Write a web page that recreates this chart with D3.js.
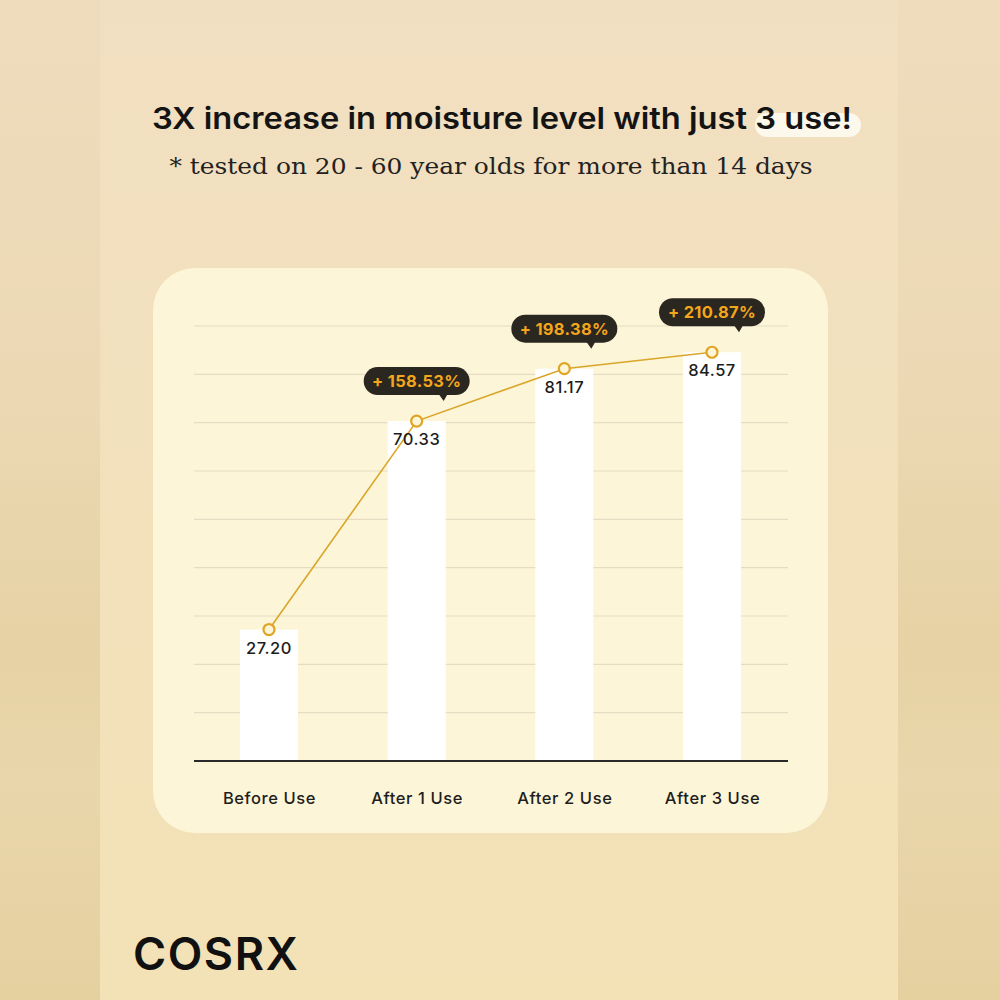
<!DOCTYPE html>
<html><head><meta charset="utf-8">
<script src="https://cdn.jsdelivr.net/npm/d3@7"></script>
<style>html,body{margin:0;padding:0;background:#f0dfbf;}svg{display:block;}</style>
</head><body>
<svg id="chart" width="1000" height="1000"></svg>
<script>
const categories = ["Before Use", "After 1 Use", "After 2 Use", "After 3 Use"];
const values = [27.20, 70.33, 81.17, 84.57];
const valueLabels = ["27.20", "70.33", "81.17", "84.57"];
const increaseLabels = [null, "+ 158.53%", "+ 198.38%", "+ 210.87%"];
const gridTicks = [10, 20, 30, 40, 50, 60, 70, 80, 90];
const titleText = "3X increase in moisture level with just 3 use!";
const subtitleText = "* tested on 20 - 60 year olds for more than 14 days";
const brandText = "COSRX";

const svg = d3.select("#chart");
const defs = svg.append("defs");
const gSide = defs.append("linearGradient").attr("id","side").attr("x1",0).attr("y1",0).attr("x2",0).attr("y2",1);
gSide.append("stop").attr("offset","0%").attr("stop-color","#efdcbd");
gSide.append("stop").attr("offset","40%").attr("stop-color","#ecd8b3");
gSide.append("stop").attr("offset","65%").attr("stop-color","#e6d2a4");
gSide.append("stop").attr("offset","78%").attr("stop-color","#e9d6aa");
gSide.append("stop").attr("offset","100%").attr("stop-color","#e5d0a0");
const gMid = defs.append("linearGradient").attr("id","mid").attr("x1",0).attr("y1",0).attr("x2",0).attr("y2",1);
gMid.append("stop").attr("offset","0%").attr("stop-color","#f1dfc1");
gMid.append("stop").attr("offset","100%").attr("stop-color","#f3e2b6");

svg.append("rect").attr("width",1000).attr("height",1000).attr("fill","url(#side)");
svg.append("rect").attr("x",100).attr("y",0).attr("width",798).attr("height",1000).attr("fill","url(#mid)");

// Title highlight
svg.append("rect").attr("x",755).attr("y",113).attr("width",106).attr("height",24).attr("rx",12)
  .attr("fill","#fdf8ec");
svg.append("text").attr("x",502).attr("y",129).attr("text-anchor","middle")
  .attr("font-family","Inter, 'Noto Sans', sans-serif").attr("font-weight",600).attr("font-size",30)
  .attr("fill","#141414").attr("textLength",700).attr("lengthAdjust","spacingAndGlyphs")
  .text(titleText);
svg.append("text").attr("x",491).attr("y",174).attr("text-anchor","middle")
  .attr("font-family","'DejaVu Serif', serif").attr("font-size",22)
  .attr("fill","#222").attr("textLength",643).attr("lengthAdjust","spacingAndGlyphs")
  .text(subtitleText);

// Card
svg.append("rect").attr("x",153).attr("y",268).attr("width",675).attr("height",565).attr("rx",42)
  .attr("fill","#fdf5d8");

const x = d3.scalePoint().domain(categories).range([269, 712]);
const y = d3.scaleLinear().domain([0, 90]).range([761, 326]);
const gridX0 = 194, gridX1 = 788, barW = 58;

// gridlines
svg.append("g").selectAll("line").data(gridTicks).join("line")
  .attr("x1",gridX0).attr("x2",gridX1)
  .attr("y1",d=>y(d)).attr("y2",d=>y(d))
  .attr("stroke","#e5dcc3").attr("stroke-width",1.2);

// bars
svg.append("g").selectAll("rect").data(values).join("rect")
  .attr("x",(d,i)=>x(categories[i])-barW/2).attr("width",barW)
  .attr("y",d=>y(d)).attr("height",d=>y(0)-y(d))
  .attr("fill","#ffffff");

// baseline axis
const xAxis = d3.axisBottom(x).tickSize(0).tickPadding(30);
const axG = svg.append("g").attr("transform",`translate(0,${y(0)})`).call(xAxis);
axG.select(".domain").attr("d",`M${gridX0},0H${gridX1}`).attr("stroke","#2a2a2a").attr("stroke-width",2);
axG.selectAll("text").attr("font-family","Inter, 'Noto Sans', sans-serif").attr("font-weight",500)
  .attr("font-size",16.5).attr("letter-spacing","0.6px").attr("fill","#1e1e1e").attr("dy","0.35em").attr("y",37);

// line
const pts = values.map((v,i)=>[x(categories[i]), y(v)]);
svg.append("path").attr("d",d3.line()(pts)).attr("fill","none")
  .attr("stroke","#d9a62a").attr("stroke-width",1.6);

svg.append("g").selectAll("circle").data(pts).join("circle")
  .attr("cx",d=>d[0]).attr("cy",d=>d[1]).attr("r",5.5)
  .attr("fill","#fdf5d8").attr("stroke","#e0a523").attr("stroke-width",2.2);

// value labels
svg.append("g").selectAll("text").data(values).join("text")
  .attr("x",(d,i)=>x(categories[i])).attr("y",d=>y(d)+24)
  .attr("text-anchor","middle")
  .attr("font-family","Inter, 'Noto Sans', sans-serif").attr("font-weight",500)
  .attr("font-size",16.5).attr("letter-spacing","0.5px").attr("fill","#1c1c1c")
  .text((d,i)=>valueLabels[i]);

// callouts
const callW = 106, callH = 28, gap = 26;
const cg = svg.append("g").selectAll("g").data(values.map((v,i)=>({v,i})).filter(d=>increaseLabels[d.i]))
  .join("g").attr("transform",d=>`translate(${x(categories[d.i])},${y(d.v)-gap-callH/2})`);
cg.append("rect").attr("x",-callW/2).attr("y",-callH/2).attr("width",callW).attr("height",callH)
  .attr("rx",14).attr("fill","#2a2620");
cg.append("path").attr("d",`M${callW/2-31},${callH/2-1}L${callW/2-22},${callH/2-1}L${callW/2-26},${callH/2+6}Z`)
  .attr("fill","#2a2620");
cg.append("text").attr("x",0).attr("y",0).attr("dy","0.36em").attr("text-anchor","middle")
  .attr("font-family","Inter, 'Noto Sans', sans-serif").attr("font-weight",700)
  .attr("font-size",16.5).attr("letter-spacing","0.3px").attr("fill","#f3a51c")
  .text(d=>increaseLabels[d.i]);

// brand
svg.append("text").attr("x",133).attr("y",970)
  .attr("font-family","Inter, 'Noto Sans', sans-serif").attr("font-weight",600)
  .attr("font-size",45).attr("fill","#111")
  .attr("textLength",165).attr("lengthAdjust","spacing")
  .text(brandText);
</script>
</body></html>
